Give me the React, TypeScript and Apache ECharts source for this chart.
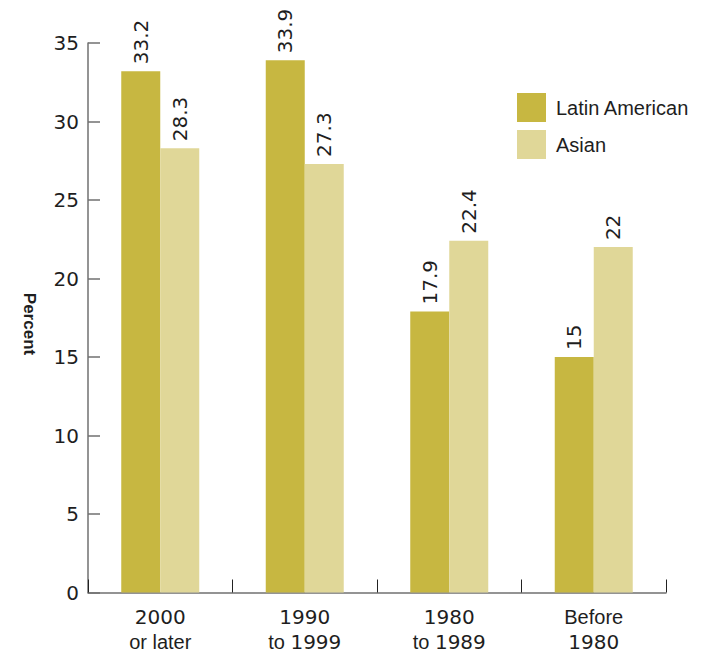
import React, { useEffect, useRef } from "react";
import * as echarts from "echarts";

const categories = ["2000\nor later", "1990\nto 1999", "1980\nto 1989", "Before\n1980"];
const latinAmerican = [33.2, 33.9, 17.9, 15];
const asian = [28.3, 27.3, 22.4, 22];
const yTicks = { min: 0, max: 35, interval: 5 };

const FONT = "'Liberation Sans', Arial, sans-serif";
const NUMFONT = "'DejaVu Sans', sans-serif";
const TEXT = "#1e1e1e";

export default function App() {
  const ref = useRef<HTMLDivElement>(null);
  useEffect(() => {
    if (!ref.current) return;
    const chart = echarts.init(ref.current, undefined, { renderer: "svg" });
    const label = {
      show: true,
      position: "top" as const,
      rotate: 90,
      align: "left" as const,
      verticalAlign: "middle" as const,
      distance: 7,
      fontSize: 20,
      fontFamily: NUMFONT,
      color: TEXT,
    };
    chart.setOption({
      animation: false,
      textStyle: { fontFamily: FONT },
      grid: { left: 88, right: 41, top: 43, bottom: 64.5, containLabel: false },
      legend: {
        orient: "vertical",
        left: 517,
        top: 93,
        padding: 0,
        itemWidth: 29,
        itemHeight: 29,
        itemGap: 8,
        icon: "rect",
        textStyle: { fontSize: 20, fontFamily: FONT, color: TEXT, padding: [0, 0, 0, 5] },
        data: ["Latin American", "Asian"],
      },
      graphic: [
        {
          type: "text",
          x: 29.5,
          y: 324,
          rotation: -Math.PI / 2,
          style: {
            text: "Percent",
            fontSize: 17,
            fontWeight: "bold",
            fontFamily: FONT,
            fill: TEXT,
            align: "center",
            verticalAlign: "middle",
          },
        },
      ],
      xAxis: {
        type: "category",
        data: categories,
        boundaryGap: true,
        axisLine: { lineStyle: { color: "#707070", width: 1.5 } },
        axisTick: { show: true, interval: 0, inside: true, length: 13, lineStyle: { color: "#222", width: 1 } },
        axisLabel: {
          interval: 0,
          hideOverlap: false,
          margin: 12,
          color: TEXT,
          fontSize: 20,
          fontFamily: FONT,
          lineHeight: 25,
          formatter: (v: string) =>
            v
              .split("\n")
              .map((line) => line.replace(/(\d+)/g, "{d|$1}").replace(/(^|\})([^{}]+)(?=\{|$)/g, "$1{t|$2}"))
              .join("\n"),
          rich: {
            d: { fontFamily: NUMFONT, fontSize: 20, color: TEXT, lineHeight: 25 },
            t: { fontFamily: FONT, fontSize: 20, color: TEXT, lineHeight: 25 },
          },
        },
      },
      yAxis: {
        type: "value",
        min: yTicks.min,
        max: yTicks.max,
        interval: yTicks.interval,
        splitLine: { show: false },
        axisLine: { show: true, lineStyle: { color: "#707070", width: 1.5 } },
        axisTick: { show: true, inside: true, length: 12, lineStyle: { color: "#707070", width: 1.5 } },
        axisLabel: { fontSize: 20, fontFamily: NUMFONT, color: TEXT, margin: 9 },
      },
      series: [
        {
          name: "Latin American",
          type: "bar",
          data: latinAmerican,
          barWidth: 39,
          barGap: "0%",
          itemStyle: { color: "#c7b741" },
          label,
        },
        {
          name: "Asian",
          type: "bar",
          data: asian,
          barWidth: 39,
          barGap: "0%",
          itemStyle: { color: "#e0d798" },
          label,
        },
      ],
    });
    return () => chart.dispose();
  }, []);
  return <div ref={ref} style={{ width: 707, height: 657, margin: -8 }} />;
}
